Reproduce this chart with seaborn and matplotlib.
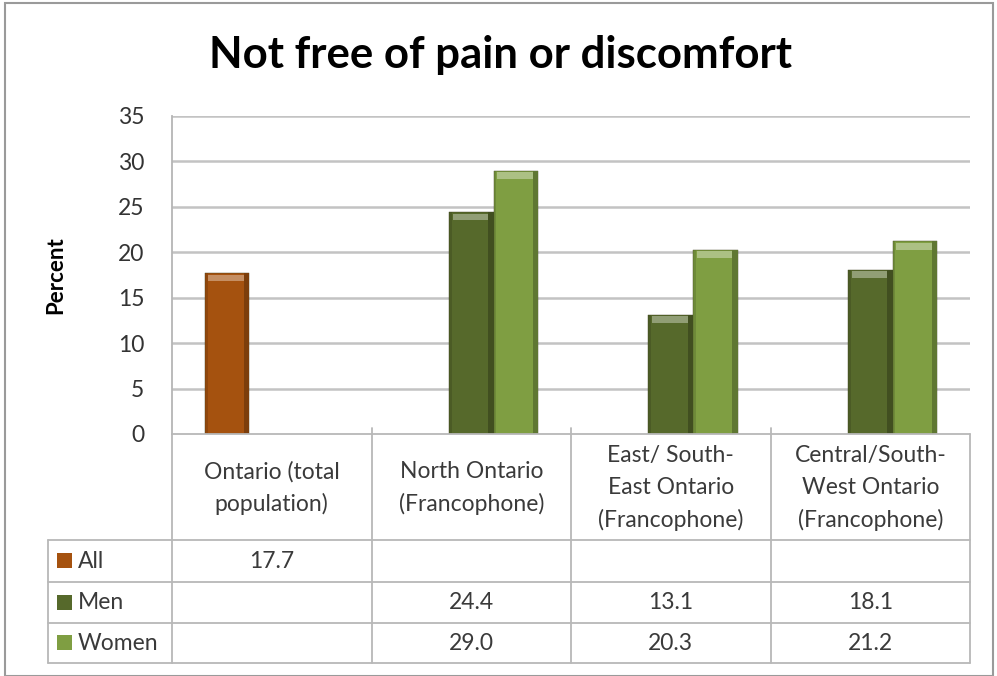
import matplotlib
matplotlib.use("Agg")
import matplotlib.pyplot as plt
import seaborn as sns
import pandas as pd
import numpy as np
from matplotlib.patches import Rectangle

# ---- data ----
categories = ["Ontario (total\npopulation)", "North Ontario\n(Francophone)",
              "East/ South-\nEast Ontario\n(Francophone)", "Central/South-\nWest Ontario\n(Francophone)"]
series = ["All", "Men", "Women"]
all_vals = [17.7, None, None, None]
men_vals = [None, 24.4, 13.1, 18.1]
women_vals = [None, 29.0, 20.3, 21.2]
yticks = [0, 5, 10, 15, 20, 25, 30, 35]
colors = {"All": "#A5520F", "Men": "#56692B", "Women": "#7F9E42"}

rows = []
for s, vals in zip(series, [all_vals, men_vals, women_vals]):
    for c, v in zip(categories, vals):
        if v is not None:
            rows.append({"cat": c, "series": s, "val": v})
df = pd.DataFrame(rows)

sns.set_theme(style="white")
plt.rcParams['font.family'] = ['Lato', 'DejaVu Sans']

W, H = 997, 676
fig = plt.figure(figsize=(W / 100, H / 100), dpi=100)
fig.patch.set_facecolor("white")

# outer frame
fig.add_artist(Rectangle((5 / W, 0), (993 - 5) / W, (673 - 0) / H, transform=fig.transFigure,
                         fill=False, edgecolor="#9A9A9A", linewidth=1.5))

x0, x1, y0, y1 = 172, 970, 116, 434
ax = fig.add_axes([x0 / W, 1 - y1 / H, (x1 - x0) / W, (y1 - y0) / H])

sns.barplot(data=df, x="cat", y="val", hue="series", order=categories, hue_order=series,
            palette=colors, width=0.67, dodge=True, saturation=1, ax=ax, legend=False,
            edgecolor="#3a3a1a", linewidth=0.3, zorder=3)

# bevel-like highlights derived from drawn bars
for p in list(ax.patches):
    h = p.get_height()
    if not np.isfinite(h) or h <= 0:
        continue
    fc = np.array(matplotlib.colors.to_rgb(p.get_facecolor()))
    light = np.clip(fc + (1 - fc) * 0.35, 0, 1)
    dark = fc * 0.75
    bx, bw = p.get_x(), p.get_width()
    ax.add_patch(Rectangle((bx + bw * 0.08, h - 0.9), bw * 0.84, 0.75, facecolor=light,
                           edgecolor="none", zorder=4))
    ax.add_patch(Rectangle((bx + bw * 0.88, 0), bw * 0.12, h, facecolor=dark,
                           edgecolor="none", zorder=4))
    ax.add_patch(Rectangle((bx, 0), bw * 0.06, h, facecolor=dark, alpha=0.5,
                           edgecolor="none", zorder=4))

ax.set_xlim(-0.5, 3.5)
ax.set_ylim(0, 35)
ax.set_yticks(yticks)
ax.set_yticklabels([str(t) for t in yticks], fontsize=16.5, color="#333333")
ax.tick_params(axis="y", length=0, pad=20)
ax.set_xticks([])
ax.set_xlabel("")
ax.set_ylabel("Percent", fontsize=16, fontweight="bold", labelpad=37, color="black")
for t in yticks[1:]:
    ax.axhline(t, color="#C3C3C3", linewidth=1.8, zorder=1)
for s in ["top", "right", "bottom"]:
    ax.spines[s].set_visible(False)
ax.spines["left"].set_color("#B5B5B5")
ax.spines["left"].set_linewidth(1.3)

# ---- data table ----
gc = "#B8B8B8"
lw = 1.3
def ya(py):
    return (y1 - py) / (y1 - y0)

tr = ax.get_xaxis_transform()
ax.plot([-0.5, 3.5], [0, 0], color=gc, lw=lw, transform=tr, clip_on=False, zorder=5)
row_tops = [540, 582, 623]
row_bots = [582, 623, 663]
bottom = 663
for r in row_tops:
    ax.plot([-0.5, 3.5], [ya(r), ya(r)], color=gc, lw=lw, transform=tr, clip_on=False)
ax.plot([-0.5, 3.5], [ya(bottom), ya(bottom)], color=gc, lw=lw, transform=tr, clip_on=False)
for xb in [-0.5, 0.5, 1.5, 2.5, 3.5]:
    ax.plot([xb, xb], [0, ya(bottom)], color=gc, lw=lw, transform=tr, clip_on=False)
for xb in [0.5, 1.5, 2.5]:
    ax.plot([xb, xb], [0, ya(428)], color=gc, lw=lw, transform=tr, clip_on=False)

# row label box
lx = 48
for py in [540, 582, 623, 663]:
    fig.add_artist(plt.Line2D([lx / W, x0 / W], [1 - py / H, 1 - py / H], color=gc, lw=lw))
fig.add_artist(plt.Line2D([lx / W, lx / W], [1 - 540 / H, 1 - 663 / H], color=gc, lw=lw))

# header labels
for i, c in enumerate(categories):
    ax.text(i, ya(488), c, transform=tr, ha="center", va="center", fontsize=16.5,
            color="#3a3a3a", linespacing=1.6, clip_on=False)

# values
for ri, (s, vals) in enumerate(zip(series, [all_vals, men_vals, women_vals])):
    yc = (row_tops[ri] + row_bots[ri]) / 2
    for i, v in enumerate(vals):
        if v is not None:
            ax.text(i, ya(yc), f"{v:.1f}", transform=tr, ha="center", va="center",
                    fontsize=16.5, color="#3a3a3a", clip_on=False)
    fig.add_artist(Rectangle((57 / W, 1 - (yc + 7) / H), 15 / W, 15 / H, transform=fig.transFigure,
                             facecolor=colors[s], edgecolor="none"))
    fig.text(78 / W, 1 - yc / H, s, ha="left", va="center", fontsize=16.5, color="#3a3a3a")

fig.text(500 / W, 1 - 55 / H, "Not free of pain or discomfort", ha="center", va="center",
         fontsize=31.5, fontweight="bold", color="black")

fig.savefig("out.png", dpi=100, facecolor="white")
